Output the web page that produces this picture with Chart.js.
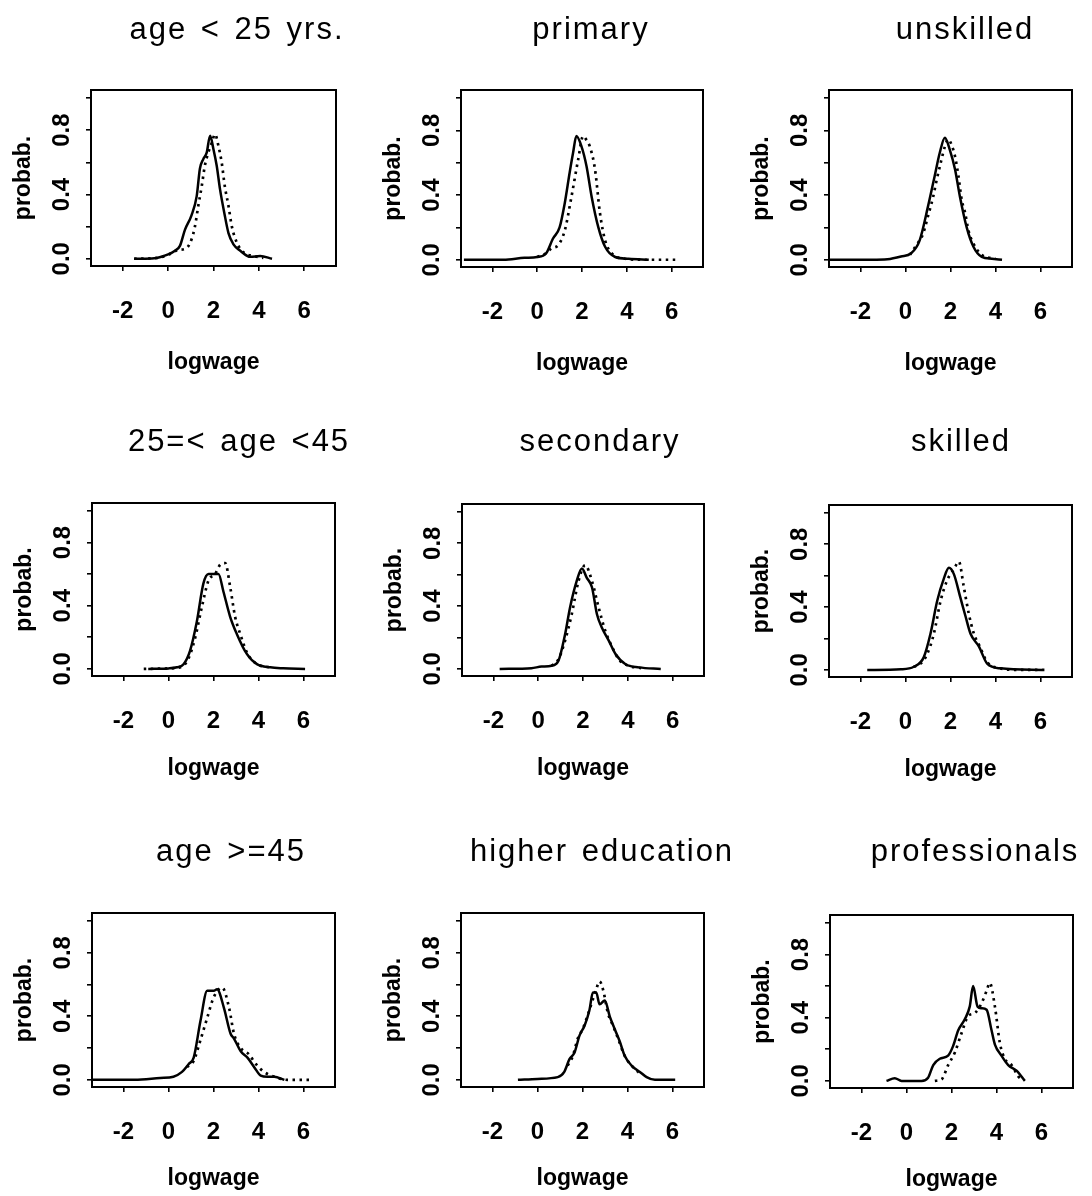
<!DOCTYPE html>
<html><head><meta charset="utf-8">
<script src="https://cdn.jsdelivr.net/npm/chart.js@4.4.1/dist/chart.umd.min.js"></script>
<style>
html,body{margin:0;padding:0;background:#fff;width:1092px;height:1196px;overflow:hidden;position:relative}
canvas{position:absolute}
</style></head><body>
<script>
// ---------------- DATA ----------------
const panelTitles = ["age < 25 yrs.", "primary", "unskilled",
                     "25=< age <45", "secondary", "skilled",
                     "age >=45", "higher education", "professionals"];
const xAxisTitle = "logwage";
const yAxisTitle = "probab.";
const xTickValues = [-2, 0, 2, 4, 6];
const yTickValues = [0, 0.2, 0.4, 0.6, 0.8, 1.0];
const yTickLabelled = [0, 0.4, 0.8];

// age < 25 yrs.
const ageLt25SolidX = [-1.5,-1.0,-0.5,0.0,0.3,0.52,0.74,1.03,1.26,1.4,1.55,1.7,1.85,2.0,2.14,2.29,2.47,2.66,2.88,3.18,3.62,4.06,4.58];
const ageLt25SolidY = [0.0,0.0,0.005,0.027,0.05,0.08,0.18,0.27,0.39,0.56,0.62,0.66,0.765,0.68,0.58,0.43,0.29,0.16,0.09,0.05,0.012,0.017,0.0];
const ageLt25DotX = [-1.5,-0.5,0.0,0.45,0.8,1.03,1.18,1.33,1.48,1.62,1.77,1.92,2.07,2.22,2.36,2.5,2.66,2.81,3.03,3.32,3.77,4.2];
const ageLt25DotY = [0.0,0.005,0.025,0.055,0.065,0.12,0.2,0.33,0.45,0.58,0.66,0.72,0.775,0.7,0.6,0.45,0.33,0.2,0.1,0.04,0.017,0.006];
// primary
const primarySolidX = [-3.27,-1.5,-0.57,0.0,0.4,0.7,1.0,1.23,1.45,1.6,1.75,1.98,2.2,2.43,2.73,3.03,3.48,4.08,4.98];
const primarySolidY = [0.0,0.0,0.012,0.017,0.04,0.13,0.2,0.35,0.54,0.66,0.765,0.7,0.58,0.39,0.2,0.08,0.017,0.006,0.0];
const primaryDotX = [0.0,0.4,0.63,0.93,1.23,1.53,1.83,2.05,2.2,2.35,2.58,2.8,3.03,3.33,3.93,4.68,6.18];
const primaryDotY = [0.017,0.04,0.07,0.09,0.18,0.39,0.62,0.765,0.74,0.70,0.56,0.29,0.12,0.04,0.006,0.0,0.0];
// unskilled
const unskilledSolidX = [-3.4,-1.5,-0.8,-0.2,0.25,0.63,1.0,1.3,1.52,1.75,1.97,2.2,2.42,2.72,3.02,3.39,3.84,4.29];
const unskilledSolidY = [0.0,0.0,0.003,0.02,0.04,0.12,0.33,0.52,0.66,0.755,0.68,0.56,0.39,0.2,0.08,0.017,0.006,0.0];
const unskilledDotX = [0.2,0.48,0.78,1.0,1.23,1.38,1.6,1.75,1.9,2.05,2.2,2.35,2.5,2.65,2.8,3.02,3.39,3.99];
const unskilledDotY = [0.03,0.09,0.16,0.27,0.39,0.49,0.62,0.70,0.745,0.71,0.64,0.52,0.37,0.29,0.18,0.1,0.03,0.006];
// 25=< age <45
const age25to45SolidX = [-0.9,0.0,0.37,0.67,0.96,1.26,1.55,1.78,2.0,2.22,2.44,2.74,3.04,3.48,3.93,4.52,5.1,6.07];
const age25to45SolidY = [0.0,0.003,0.01,0.03,0.116,0.3,0.54,0.6,0.6,0.6,0.49,0.33,0.22,0.095,0.03,0.01,0.004,0.0];
const age25to45DotX = [-1.1,0.0,0.6,0.9,1.19,1.48,1.78,2.07,2.3,2.52,2.74,2.96,3.19,3.5,3.93,4.5];
const age25to45DotY = [0.0,0.003,0.015,0.07,0.2,0.39,0.56,0.6,0.66,0.67,0.52,0.33,0.22,0.1,0.03,0.01];
// secondary
const secondarySolidX = [-1.72,-0.3,0.15,0.6,0.9,1.2,1.42,1.72,1.95,2.17,2.4,2.62,2.85,3.15,3.45,3.9,4.5,5.47];
const secondarySolidY = [0.0,0.005,0.015,0.02,0.05,0.22,0.39,0.56,0.64,0.58,0.52,0.35,0.26,0.18,0.095,0.03,0.01,0.0];
const secondaryDotX = [0.6,0.9,1.2,1.5,1.8,2.1,2.4,2.7,3.0,3.3,3.6,4.04,4.6];
const secondaryDotY = [0.02,0.06,0.18,0.35,0.56,0.66,0.56,0.39,0.24,0.14,0.06,0.02,0.005];
// skilled
const skilledSolidX = [-1.7,-0.2,0.37,0.81,1.11,1.41,1.7,1.93,2.15,2.44,2.67,2.89,3.26,3.63,4.22,6.07];
const skilledSolidY = [0.0,0.004,0.02,0.08,0.23,0.44,0.58,0.65,0.61,0.46,0.34,0.23,0.15,0.04,0.01,0.0];
const skilledDotX = [0.37,0.67,0.96,1.26,1.56,1.85,2.15,2.37,2.59,2.81,3.04,3.3,3.63,4.22,5.0,6.3];
const skilledDotY = [0.02,0.04,0.1,0.23,0.44,0.57,0.64,0.69,0.53,0.36,0.23,0.15,0.05,0.01,0.0,0.0];
// age >=45
const ageGe45SolidX = [-3.36,-1.5,-0.37,0.22,0.6,0.9,1.12,1.42,1.72,1.9,2.01,2.16,2.46,2.76,2.91,3.21,3.51,3.81,4.1,4.4,4.7,5.15];
const ageGe45SolidY = [0.0,0.0,0.012,0.02,0.05,0.1,0.14,0.37,0.56,0.56,0.56,0.57,0.455,0.29,0.26,0.18,0.14,0.08,0.027,0.02,0.02,0.0];
const ageGe45DotX = [0.82,1.12,1.42,1.72,2.01,2.39,2.69,2.91,3.21,3.58,3.88,4.25,4.7,5.3,6.42];
const ageGe45DotY = [0.08,0.12,0.25,0.39,0.52,0.58,0.455,0.29,0.2,0.16,0.1,0.05,0.02,0.0,0.0];
// higher education
const higherEduSolidX = [-0.87,0.0,0.9,1.19,1.42,1.64,1.87,2.09,2.31,2.46,2.61,2.76,2.99,3.21,3.43,3.66,3.88,4.18,4.55,4.85,5.22,5.67,6.12];
const higherEduSolidY = [0.0,0.006,0.017,0.05,0.13,0.17,0.28,0.34,0.44,0.55,0.55,0.475,0.5,0.4,0.32,0.24,0.15,0.09,0.05,0.017,0.0,0.0,0.0];
const higherEduDotX = [1.34,1.57,1.79,2.01,2.31,2.61,2.76,2.91,3.13,3.36,3.58,3.88,4.18,4.55];
const higherEduDotY = [0.09,0.15,0.26,0.32,0.44,0.57,0.62,0.57,0.42,0.34,0.26,0.15,0.09,0.04];
// professionals
const professionalsSolidX = [-0.89,-0.52,-0.22,0.67,0.96,1.19,1.48,1.85,2.07,2.3,2.59,2.81,2.96,3.16,3.33,3.56,3.78,3.93,4.22,4.52,4.89,5.26];
const professionalsSolidY = [0.0,0.017,0.0,0.0,0.02,0.1,0.14,0.16,0.22,0.32,0.39,0.47,0.6,0.47,0.46,0.45,0.32,0.23,0.16,0.1,0.065,0.0];
const professionalsDotX = [1.26,1.56,1.85,2.15,2.44,2.74,3.04,3.33,3.56,3.7,3.93,4.15,4.37,4.67,4.96,5.1];
const professionalsDotY = [0.0,0.01,0.1,0.18,0.3,0.41,0.43,0.49,0.57,0.62,0.47,0.24,0.14,0.1,0.03,0.01];

const seriesSolid = [
  [ageLt25SolidX, ageLt25SolidY], [primarySolidX, primarySolidY], [unskilledSolidX, unskilledSolidY],
  [age25to45SolidX, age25to45SolidY], [secondarySolidX, secondarySolidY], [skilledSolidX, skilledSolidY],
  [ageGe45SolidX, ageGe45SolidY], [higherEduSolidX, higherEduSolidY], [professionalsSolidX, professionalsSolidY]
];
const seriesDotted = [
  [ageLt25DotX, ageLt25DotY], [primaryDotX, primaryDotY], [unskilledDotX, unskilledDotY],
  [age25to45DotX, age25to45DotY], [secondaryDotX, secondaryDotY], [skilledDotX, skilledDotY],
  [ageGe45DotX, ageGe45DotY], [higherEduDotX, higherEduDotY], [professionalsDotX, professionalsDotY]
];

// ---------------- LAYOUT (page pixels) ----------------
// plot box: [left, right, top, bottom]
const boxes = [
  [91,336,90,266],[461,703,90,267],[829,1072,90,267],
  [92,335,503,676],[462,704,504,676],[829,1072,505,677],
  [92,335,913,1087],[461,704,913,1087],[830,1073,915,1088]
];
// panel title centre [x, y]
const titleCentres = [
  [237,30],[591,30],[965,30],
  [239,442],[600,442],[961,442],
  [231,852],[602,852],[975,852]
];
// distance from box bottom to centre of x-axis title, per row
const xTitleDrop = [96, 92, 91];
const FONT = "'Liberation Sans', Arial, Helvetica, sans-serif";
const LEFT_M = 92, TOP_M = 90, RIGHT_M = 50;

const framePlugin = {
  id: 'frame',
  afterDatasetsDraw(chart) {
    const {ctx, chartArea: a} = chart;
    ctx.save();
    ctx.strokeStyle = '#000';
    ctx.lineWidth = 2;
    ctx.strokeRect(a.left, a.top, a.right - a.left, a.bottom - a.top);
    ctx.restore();
  }
};
const panelTitlePlugin = {
  id: 'panelTitle',
  afterDraw(chart, args, opts) {
    const ctx = chart.ctx;
    ctx.save();
    ctx.letterSpacing = opts.letterSpacing;
    try { ctx.wordSpacing = opts.wordSpacing; } catch (e) {}
    ctx.font = opts.font;
    ctx.fillStyle = '#000';
    ctx.textAlign = 'center';
    ctx.textBaseline = 'middle';
    ctx.fillText(opts.text, opts.x, opts.y);
    ctx.restore();
  }
};

function toPoints(xs, ys) { return xs.map((x, i) => ({x: x, y: ys[i]})); }

for (let i = 0; i < 9; i++) {
  const [bx0, bx1, by0, by1] = boxes[i];
  const bw = bx1 - bx0, bh = by1 - by0;
  const row = Math.floor(i / 3);
  const bottomM = xTitleDrop[row] + 12;
  const left = bx0 - LEFT_M, top = by0 - TOP_M;
  const W = Math.min(bw + LEFT_M + RIGHT_M, 1092 - left);
  const H = bh + TOP_M + bottomM;
  const cv = document.createElement('canvas');
  cv.width = W; cv.height = H;
  cv.style.left = left + 'px'; cv.style.top = top + 'px';
  cv.style.width = W + 'px'; cv.style.height = H + 'px';
  document.body.appendChild(cv);

  const tickGrid = {display: true, drawOnChartArea: false, drawTicks: true, tickLength: 5, color: '#000', lineWidth: 1.6};

  new Chart(cv, {
    type: 'line',
    data: {
      datasets: [
        {label: 'solid', data: toPoints(seriesSolid[i][0], seriesSolid[i][1]),
         borderColor: '#000', borderWidth: 2.5, pointRadius: 0, fill: false,
         cubicInterpolationMode: 'monotone'},
        {label: 'dotted', data: toPoints(seriesDotted[i][0], seriesDotted[i][1]),
         borderColor: '#000', borderWidth: 2.7, borderDash: [2.5, 4.5], pointRadius: 0, fill: false,
         cubicInterpolationMode: 'monotone'}
      ]
    },
    options: {
      responsive: false, animation: false, devicePixelRatio: 1, events: [],
      layout: {padding: {left: 0, top: TOP_M, right: W - LEFT_M - bw, bottom: 0}},
      plugins: {
        legend: {display: false}, tooltip: {enabled: false}, title: {display: false},
        panelTitle: {text: panelTitles[i], x: titleCentres[i][0] - left, y: titleCentres[i][1] - top,
                     font: "normal 31px " + FONT, letterSpacing: '2px', wordSpacing: '3px'}
      },
      scales: {
        x: {
          type: 'linear', position: 'bottom', min: -3.4, max: 7.4,
          afterBuildTicks: s => { s.ticks = xTickValues.map(v => ({value: v})); },
          afterFit: s => { s.height = H - TOP_M - bh; },
          grid: tickGrid, border: {display: false},
          ticks: {autoSkip: false, maxRotation: 0, minRotation: 0, color: '#000', padding: 26,
                  font: {family: FONT, size: 24, weight: 'bold'}, callback: v => String(v)},
          title: {display: true, text: xAxisTitle, color: '#000', padding: {top: 0, bottom: 0},
                  font: {family: FONT, size: 23, weight: 'bold', lineHeight: 1.0}}
        },
        y: {
          type: 'linear', position: 'left', min: -0.045, max: 1.05,
          afterBuildTicks: s => { s.ticks = yTickValues.map(v => ({value: v})); },
          afterFit: s => { s.width = LEFT_M; },
          grid: tickGrid, border: {display: false},
          ticks: {autoSkip: false, minRotation: 90, maxRotation: 90, crossAlign: 'center', padding: 7,
                  color: '#000', font: {family: FONT, size: 24, weight: 'bold'},
                  callback: v => yTickLabelled.some(t => Math.abs(t - v) < 1e-9) ? v.toFixed(1) : ''},
          title: {display: true, text: yAxisTitle, color: '#000', padding: {top: 13, bottom: 0},
                  font: {family: FONT, size: 23, weight: 'bold', lineHeight: 1.0}}
        }
      }
    },
    plugins: [framePlugin, panelTitlePlugin]
  });
}
</script>
</body></html>
